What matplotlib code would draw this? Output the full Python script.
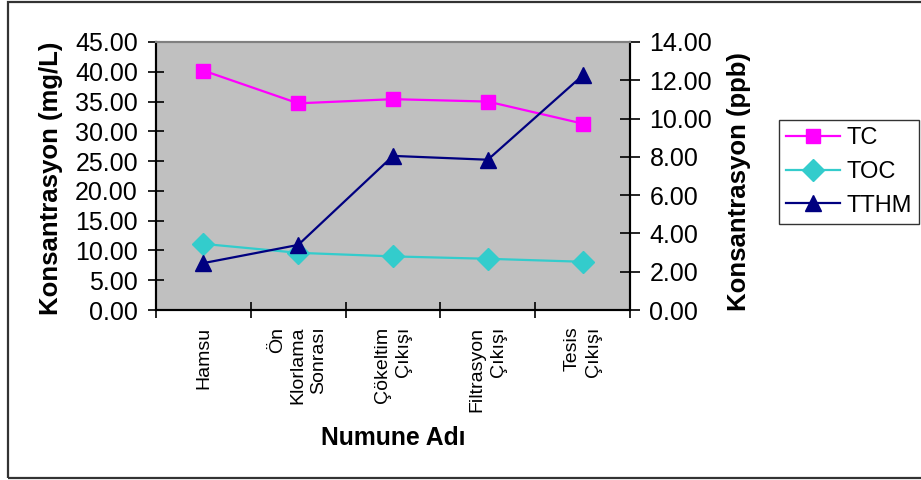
import numpy as np
import matplotlib
matplotlib.use("Agg")
import matplotlib.pyplot as plt
from matplotlib.patches import Rectangle
from matplotlib.lines import Line2D

plt.rcParams['font.family'] = ['Liberation Sans', 'DejaVu Sans']

# numune noktalari
categories = ['Hamsu', 'Ön\nKlorlama\nSonrası', 'Çökeltim\nÇıkışı',
              'Filtrasyon\nÇıkışı', 'Tesis\nÇıkışı']
tc = [40.2, 34.7, 35.4, 35.0, 31.3]      # mg/L
toc = [11.1, 9.6, 9.0, 8.6, 8.1]         # mg/L
tthm = [2.45, 3.4, 8.05, 7.85, 12.25]    # ppb

left_ticks = np.arange(0, 45.01, 5)
right_ticks = np.arange(0, 14.01, 2)

fig = plt.figure(figsize=(9.21, 4.8), dpi=100)
fig.patches.append(Rectangle((8/921, 2/480), 1.0, 476/480, transform=fig.transFigure,
                             fill=False, edgecolor='#333333', linewidth=1.6,
                             clip_on=False))

ax = fig.add_axes([156/921, 170/480, 474/921, 268/480])
ax.set_facecolor('#C0C0C0')
ax2 = ax.twinx()

x = np.arange(len(categories)) + 0.5

ax.plot(x, tc, '-s', color='#FF00FF', lw=1.6, ms=10, label='TC')
ax.plot(x, toc, '-D', color='#33CCCC', lw=1.6, ms=11, label='TOC')
ax2.plot(x, tthm, '-^', color='#000080', lw=1.6, ms=12, label='TTHM')

ax.set_xlim(0, len(categories))
ax.set_ylim(0, 45)
ax2.set_ylim(0, 14)

ax.set_yticks(left_ticks)
ax.set_yticklabels([f'{v:.2f}' for v in left_ticks])
ax2.set_yticks(right_ticks)
ax2.set_yticklabels([f'{v:.2f}' for v in right_ticks])

ax.set_xticks(np.arange(len(categories) + 1))
ax.set_xticklabels([])
ax.set_xticks(x, minor=True)
ax.set_xticklabels(categories, minor=True, rotation=90, fontsize=14,
                   va='top', ha='center', multialignment='right', linespacing=1.3)
ax.tick_params(axis='x', which='minor', length=0, pad=12)
ax.tick_params(axis='x', which='major', direction='inout', length=12, width=1.2)
ax.tick_params(axis='y', direction='inout', length=12, width=1.2, labelsize=18, pad=7)
ax2.tick_params(axis='y', direction='inout', length=14, width=1.2, labelsize=18, pad=7)

for a in (ax, ax2):
    a.spines['top'].set_color('#808080')
    a.spines['top'].set_linewidth(1.5)
    a.spines['left'].set_linewidth(1.5)
    a.spines['right'].set_linewidth(1.5)
    a.spines['bottom'].set_linewidth(1.5)

ax.set_ylabel('Konsantrasyon (mg/L)', fontsize=18.5, fontweight='bold')
ax2.set_ylabel('Konsantrasyon (ppb)', fontsize=18.5, fontweight='bold')
ax.yaxis.set_label_coords(-0.196, 0.49)
ax2.yaxis.set_label_coords(1.205, 0.48)
ax.set_xlabel('Numune Adı', fontsize=17.8, fontweight='bold', labelpad=10)

handles = [Line2D([], [], color='#FF00FF', marker='s', lw=1.6, ms=10),
           Line2D([], [], color='#33CCCC', marker='D', lw=1.6, ms=11),
           Line2D([], [], color='#000080', marker='^', lw=1.6, ms=12)]
leg = fig.legend(handles, ['TC', 'TOC', 'TTHM'], loc='upper left',
                 bbox_to_anchor=(779/921, 1 - 120/480), fontsize=17,
                 frameon=True, fancybox=False, edgecolor='black',
                 handlelength=2.3, handletextpad=0.25, labelspacing=0.5,
                 borderpad=0.3, borderaxespad=0)
leg.get_frame().set_linewidth(1.0)

fig.savefig('out.png', dpi=100)
